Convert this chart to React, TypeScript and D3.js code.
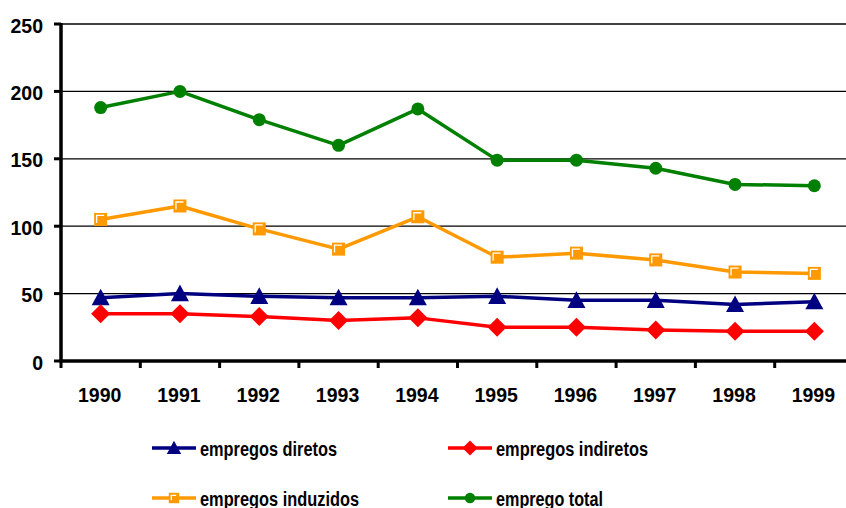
import React from "react";
import * as d3 from "d3";

const years = ["1990","1991","1992","1993","1994","1995","1996","1997","1998","1999"];
const empregoTotal = [188, 200, 179, 160, 187, 149, 149, 143, 131, 130];
const empregosInduzidos = [105, 115, 98, 83, 107, 77, 80, 75, 66, 65];
const empregosDiretos = [47, 50, 48, 47, 47, 48, 45, 45, 42, 44];
const empregosIndiretos = [35, 35, 33, 30, 32, 25, 25, 23, 22, 22];
const yTicks = [0, 50, 100, 150, 200, 250];

type Marker = "triangle" | "diamond" | "square" | "circle";
const series: { name: string; values: number[]; color: string; marker: Marker }[] = [
  { name: "empregos diretos", values: empregosDiretos, color: "#000080", marker: "triangle" },
  { name: "empregos indiretos", values: empregosIndiretos, color: "#FF0000", marker: "diamond" },
  { name: "empregos induzidos", values: empregosInduzidos, color: "#FF9900", marker: "square" },
  { name: "emprego total", values: empregoTotal, color: "#008000", marker: "circle" },
];

const W = 846, H = 508;
const left = 61, top = 24, bottom = 361, right = 854;
const font = "'Liberation Sans', Arial, sans-serif";

function MarkerShape({ type, x, y, color, scale = 1 }: { type: Marker; x: number; y: number; color: string; scale?: number }) {
  if (type === "circle") return <circle cx={x} cy={y} r={6.5 * scale} fill={color} />;
  if (type === "triangle") {
    const s = 9 * scale;
    return <path d={`M${x},${y - s}L${x + s},${y + s * 0.85}L${x - s},${y + s * 0.85}Z`} fill={color} />;
  }
  if (type === "diamond") {
    const s = 9.5 * scale;
    return <path d={`M${x},${y - s}L${x + s},${y}L${x},${y + s}L${x - s},${y}Z`} fill={color} />;
  }
  const s = 6.5 * scale;
  return (
    <g>
      <rect x={x - s} y={y - s} width={2 * s} height={2 * s} fill={color} />
      <path d={`M${x - s + 2.5},${y + s - 3}L${x - s + 2.5},${y - s + 2.5}L${x + s - 3},${y - s + 2.5}`} fill="none" stroke="#fff" strokeWidth={1.3} />
    </g>
  );
}

export default function App() {
  const x = d3.scaleBand<string>().domain(years).range([left, right]);
  const y = d3.scaleLinear().domain([0, 250]).range([bottom, top]);
  const line = d3.line<number>().x((_, i) => x(years[i])! + x.bandwidth() / 2).y((d) => y(d));
  const xTickPos = years.map((yr) => x(yr)!).concat([right]);

  const legendPos = [
    { lx: 152, ly: 448, tw: 137 },
    { lx: 448, ly: 448, tw: 152 },
    { lx: 152, ly: 498, tw: 159 },
    { lx: 448, ly: 498, tw: 107 },
  ];

  return (
    <svg width={W} height={H} style={{ position: "absolute", left: 0, top: 0, background: "#fff" }} fontFamily={font}>
      {yTicks.map((t) => (
        <g key={t}>
          {t > 0 && <line x1={left} x2={W} y1={y(t)} y2={y(t)} stroke="#000" strokeWidth={1.3} />}
          <line x1={left - 7} x2={left} y1={y(t)} y2={y(t)} stroke="#000" strokeWidth={3} />
          <text x={43} y={y(t) + 8.5} textAnchor="end" fontSize={19.5} fontWeight="bold">{t}</text>
        </g>
      ))}
      {xTickPos.map((p, i) => (
        <line key={i} x1={p} x2={p} y1={bottom} y2={bottom + 7} stroke="#000" strokeWidth={3} />
      ))}
      <line x1={left} x2={left} y1={top - 1} y2={bottom + 1.5} stroke="#000" strokeWidth={3.5} />
      <line x1={left - 1.5} x2={W} y1={bottom} y2={bottom} stroke="#000" strokeWidth={3.5} />
      {years.map((yr) => (
        <text key={yr} x={x(yr)! + x.bandwidth() / 2 - 1} y={402} textAnchor="middle" fontSize={19.5} fontWeight="bold">{yr}</text>
      ))}
      {series.map((s) => (
        <g key={s.name}>
          <path d={line(s.values)!} fill="none" stroke={s.color} strokeWidth={3.5} strokeLinejoin="round" />
          {s.values.map((v, i) => (
            <MarkerShape key={i} type={s.marker} x={x(years[i])! + x.bandwidth() / 2} y={y(v)} color={s.color} />
          ))}
        </g>
      ))}
      {series.map((s, i) => {
        const { lx, ly, tw } = legendPos[i];
        return (
          <g key={s.name}>
            <line x1={lx} x2={lx + 44} y1={ly} y2={ly} stroke={s.color} strokeWidth={3.5} />
            <MarkerShape type={s.marker} x={lx + 22} y={ly} color={s.color} scale={0.8} />
            <text x={lx + 48} y={ly + 8} fontSize={20} fontWeight="bold" textLength={tw} lengthAdjust="spacingAndGlyphs">{s.name}</text>
          </g>
        );
      })}
    </svg>
  );
}
